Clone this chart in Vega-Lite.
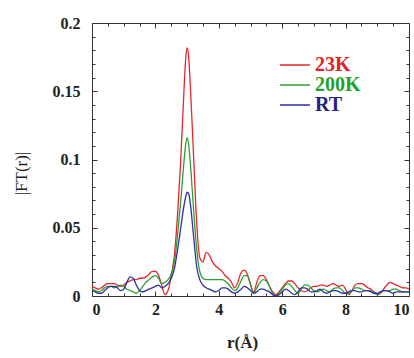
{
  "$schema": "https://vega.github.io/schema/vega-lite/v6.json",
  "width": 317,
  "height": 273,
  "autosize": {"type": "none"},
  "padding": {"left": 92, "top": 23, "right": 5, "bottom": 62},
  "background": "white",
  "config": {
    "view": {"stroke": null},
    "font": "Liberation Serif",
    "axis": {
      "grid": false,
      "domainColor": "#333333",
      "domainWidth": 1,
      "tickColor": "#333333",
      "tickWidth": 1,
      "labelFont": "Liberation Serif",
      "labelFontWeight": "bold",
      "labelFontSize": 16,
      "labelColor": "#222222",
      "titleFont": "Liberation Serif",
      "titleFontWeight": "bold",
      "titleFontSize": 17,
      "titleColor": "#222222"
    }
  },
  "data": {
    "values": [
      {"r": 0.0, "23K": 0.007, "200K": 0.005, "RT": 0.004},
      {"r": 0.1, "23K": 0.006, "200K": 0.004, "RT": 0.003},
      {"r": 0.2, "23K": 0.005, "200K": 0.003, "RT": 0.002},
      {"r": 0.3, "23K": 0.006, "200K": 0.004, "RT": 0.002},
      {"r": 0.4, "23K": 0.008, "200K": 0.006, "RT": 0.004},
      {"r": 0.5, "23K": 0.009, "200K": 0.007, "RT": 0.006},
      {"r": 0.6, "23K": 0.009, "200K": 0.007, "RT": 0.007},
      {"r": 0.7, "23K": 0.009, "200K": 0.006, "RT": 0.007},
      {"r": 0.8, "23K": 0.008, "200K": 0.007, "RT": 0.006},
      {"r": 0.9, "23K": 0.007, "200K": 0.008, "RT": 0.004},
      {"r": 1.0, "23K": 0.008, "200K": 0.007, "RT": 0.005},
      {"r": 1.1, "23K": 0.010, "200K": 0.005, "RT": 0.010},
      {"r": 1.2, "23K": 0.011, "200K": 0.004, "RT": 0.014},
      {"r": 1.3, "23K": 0.012, "200K": 0.003, "RT": 0.013},
      {"r": 1.4, "23K": 0.012, "200K": 0.002, "RT": 0.008},
      {"r": 1.5, "23K": 0.013, "200K": 0.004, "RT": 0.004},
      {"r": 1.6, "23K": 0.013, "200K": 0.007, "RT": 0.003},
      {"r": 1.7, "23K": 0.014, "200K": 0.010, "RT": 0.004},
      {"r": 1.8, "23K": 0.016, "200K": 0.012, "RT": 0.005},
      {"r": 1.9, "23K": 0.018, "200K": 0.014, "RT": 0.006},
      {"r": 2.0, "23K": 0.018, "200K": 0.015, "RT": 0.007},
      {"r": 2.1, "23K": 0.015, "200K": 0.013, "RT": 0.008},
      {"r": 2.2, "23K": 0.008, "200K": 0.009, "RT": 0.006},
      {"r": 2.3, "23K": 0.001, "200K": 0.010, "RT": 0.007},
      {"r": 2.4, "23K": 0.004, "200K": 0.012, "RT": 0.009},
      {"r": 2.5, "23K": 0.015, "200K": 0.016, "RT": 0.013},
      {"r": 2.6, "23K": 0.030, "200K": 0.025, "RT": 0.020},
      {"r": 2.7, "23K": 0.060, "200K": 0.045, "RT": 0.034},
      {"r": 2.8, "23K": 0.100, "200K": 0.070, "RT": 0.050},
      {"r": 2.9, "23K": 0.150, "200K": 0.098, "RT": 0.066},
      {"r": 2.95, "23K": 0.172, "200K": 0.110, "RT": 0.072},
      {"r": 3.0, "23K": 0.182, "200K": 0.116, "RT": 0.076},
      {"r": 3.05, "23K": 0.175, "200K": 0.111, "RT": 0.075},
      {"r": 3.1, "23K": 0.155, "200K": 0.098, "RT": 0.068},
      {"r": 3.2, "23K": 0.105, "200K": 0.065, "RT": 0.045},
      {"r": 3.3, "23K": 0.055, "200K": 0.035, "RT": 0.022},
      {"r": 3.4, "23K": 0.028, "200K": 0.018, "RT": 0.012},
      {"r": 3.5, "23K": 0.025, "200K": 0.013, "RT": 0.008},
      {"r": 3.6, "23K": 0.032, "200K": 0.012, "RT": 0.006},
      {"r": 3.7, "23K": 0.030, "200K": 0.012, "RT": 0.005},
      {"r": 3.8, "23K": 0.025, "200K": 0.012, "RT": 0.004},
      {"r": 3.9, "23K": 0.022, "200K": 0.012, "RT": 0.003},
      {"r": 4.0, "23K": 0.020, "200K": 0.012, "RT": 0.004},
      {"r": 4.1, "23K": 0.018, "200K": 0.012, "RT": 0.006},
      {"r": 4.2, "23K": 0.015, "200K": 0.011, "RT": 0.006},
      {"r": 4.3, "23K": 0.013, "200K": 0.009, "RT": 0.005},
      {"r": 4.4, "23K": 0.010, "200K": 0.006, "RT": 0.003},
      {"r": 4.5, "23K": 0.006, "200K": 0.004, "RT": 0.002},
      {"r": 4.6, "23K": 0.010, "200K": 0.006, "RT": 0.003},
      {"r": 4.7, "23K": 0.017, "200K": 0.011, "RT": 0.005},
      {"r": 4.8, "23K": 0.019, "200K": 0.015, "RT": 0.007},
      {"r": 4.9, "23K": 0.016, "200K": 0.015, "RT": 0.006},
      {"r": 5.0, "23K": 0.008, "200K": 0.009, "RT": 0.004},
      {"r": 5.1, "23K": 0.003, "200K": 0.002, "RT": 0.002},
      {"r": 5.2, "23K": 0.010, "200K": 0.006, "RT": 0.003},
      {"r": 5.3, "23K": 0.015, "200K": 0.010, "RT": 0.005},
      {"r": 5.4, "23K": 0.015, "200K": 0.012, "RT": 0.005},
      {"r": 5.5, "23K": 0.012, "200K": 0.011, "RT": 0.004},
      {"r": 5.6, "23K": 0.007, "200K": 0.007, "RT": 0.003},
      {"r": 5.7, "23K": 0.003, "200K": 0.002, "RT": 0.001},
      {"r": 5.8, "23K": 0.001, "200K": 0.000, "RT": 0.000},
      {"r": 5.9, "23K": 0.003, "200K": 0.002, "RT": 0.001},
      {"r": 6.0, "23K": 0.006, "200K": 0.005, "RT": 0.003},
      {"r": 6.1, "23K": 0.009, "200K": 0.008, "RT": 0.005},
      {"r": 6.2, "23K": 0.011, "200K": 0.009, "RT": 0.004},
      {"r": 6.3, "23K": 0.011, "200K": 0.007, "RT": 0.002},
      {"r": 6.4, "23K": 0.009, "200K": 0.004, "RT": 0.001},
      {"r": 6.5, "23K": 0.006, "200K": 0.002, "RT": 0.003},
      {"r": 6.6, "23K": 0.004, "200K": 0.005, "RT": 0.006},
      {"r": 6.7, "23K": 0.003, "200K": 0.008, "RT": 0.006},
      {"r": 6.8, "23K": 0.004, "200K": 0.008, "RT": 0.005},
      {"r": 6.9, "23K": 0.006, "200K": 0.006, "RT": 0.003},
      {"r": 7.0, "23K": 0.007, "200K": 0.004, "RT": 0.003},
      {"r": 7.1, "23K": 0.007, "200K": 0.003, "RT": 0.004},
      {"r": 7.2, "23K": 0.008, "200K": 0.004, "RT": 0.005},
      {"r": 7.3, "23K": 0.008, "200K": 0.005, "RT": 0.003},
      {"r": 7.4, "23K": 0.007, "200K": 0.004, "RT": 0.002},
      {"r": 7.5, "23K": 0.008, "200K": 0.003, "RT": 0.003},
      {"r": 7.6, "23K": 0.009, "200K": 0.005, "RT": 0.004},
      {"r": 7.7, "23K": 0.008, "200K": 0.006, "RT": 0.004},
      {"r": 7.8, "23K": 0.007, "200K": 0.006, "RT": 0.003},
      {"r": 7.9, "23K": 0.008, "200K": 0.004, "RT": 0.002},
      {"r": 8.0, "23K": 0.005, "200K": 0.002, "RT": 0.002},
      {"r": 8.1, "23K": 0.001, "200K": 0.002, "RT": 0.003},
      {"r": 8.2, "23K": 0.004, "200K": 0.004, "RT": 0.004},
      {"r": 8.3, "23K": 0.008, "200K": 0.006, "RT": 0.004},
      {"r": 8.4, "23K": 0.009, "200K": 0.006, "RT": 0.003},
      {"r": 8.5, "23K": 0.009, "200K": 0.005, "RT": 0.003},
      {"r": 8.6, "23K": 0.008, "200K": 0.004, "RT": 0.004},
      {"r": 8.7, "23K": 0.006, "200K": 0.004, "RT": 0.004},
      {"r": 8.8, "23K": 0.005, "200K": 0.004, "RT": 0.003},
      {"r": 8.9, "23K": 0.003, "200K": 0.002, "RT": 0.002},
      {"r": 9.0, "23K": 0.001, "200K": 0.001, "RT": 0.002},
      {"r": 9.1, "23K": 0.002, "200K": 0.003, "RT": 0.003},
      {"r": 9.2, "23K": 0.005, "200K": 0.004, "RT": 0.004},
      {"r": 9.3, "23K": 0.008, "200K": 0.004, "RT": 0.004},
      {"r": 9.4, "23K": 0.010, "200K": 0.004, "RT": 0.003},
      {"r": 9.5, "23K": 0.009, "200K": 0.005, "RT": 0.002},
      {"r": 9.6, "23K": 0.008, "200K": 0.005, "RT": 0.003},
      {"r": 9.7, "23K": 0.007, "200K": 0.004, "RT": 0.003},
      {"r": 9.8, "23K": 0.006, "200K": 0.003, "RT": 0.003},
      {"r": 9.9, "23K": 0.006, "200K": 0.003, "RT": 0.003},
      {"r": 10.0, "23K": 0.005, "200K": 0.003, "RT": 0.003}
    ]
  },
  "transform": [
    {"fold": ["23K", "200K", "RT"], "as": ["series", "value"]}
  ],
  "resolve": {"axis": {"x": "independent", "y": "independent"}},
  "layer": [
    {
      "mark": {"type": "line", "strokeWidth": 1.3, "interpolate": "monotone", "clip": true},
      "encoding": {
        "x": {
          "field": "r", "type": "quantitative",
          "scale": {"domain": [0, 10], "nice": false, "zero": false},
          "axis": {"orient": "bottom", "values": [0, 2, 4, 6, 8, 10], "tickSize": -5, "labelPadding": 10, "title": "r(Å)", "titlePadding": 17, "titleX": 150, "format": "d"}
        },
        "y": {
          "field": "value", "type": "quantitative",
          "scale": {"domain": [0, 0.2], "nice": false},
          "axis": {"orient": "left", "values": [0, 0.05, 0.1, 0.15, 0.2], "tickSize": -5, "labelPadding": 17, "title": "|FT(r)|", "titlePadding": 22, "titleY": 150, "titleFontWeight": "normal", "labelExpr": "datum.value == 0 ? '0' : format(datum.value, '.2~f')"}
        },
        "color": {
          "field": "series", "type": "nominal",
          "scale": {"domain": ["23K", "200K", "RT"], "range": ["#e8262a", "#2e9e34", "#2e2ea0"]},
          "legend": {
            "title": null,
            "orient": "none",
            "legendX": 193,
            "legendY": 32,
            "symbolType": "M-3,0H3",
            "symbolSize": 100,
            "symbolStrokeWidth": 1.5,
            "labelFont": "Liberation Serif",
            "labelFontSize": 20,
            "labelFontWeight": "bold",
            "labelOffset": 10,
            "rowPadding": 0,
            "labelColor": {"expr": "datum.label == '23K' ? '#e02424' : datum.label == '200K' ? '#22a02a' : '#22228a'"}
          }
        }
      }
    },
    {
      "mark": {"type": "line", "strokeOpacity": 0},
      "encoding": {
        "x": {"field": "r", "type": "quantitative", "axis": {"orient": "top", "values": [0, 2, 4, 6, 8, 10], "tickSize": -5, "labels": false, "title": null}},
        "y": {"field": "value", "type": "quantitative", "axis": {"orient": "right", "values": [0, 0.05, 0.1, 0.15, 0.2], "tickSize": -5, "labels": false, "title": null}},
        "detail": {"field": "series"}
      }
    },
    {
      "mark": {"type": "line", "strokeOpacity": 0},
      "encoding": {
        "x": {"field": "r", "type": "quantitative", "axis": {"orient": "bottom", "values": [0.5, 1, 1.5, 2.5, 3, 3.5, 4.5, 5, 5.5, 6.5, 7, 7.5, 8.5, 9, 9.5], "tickSize": -3, "labels": false, "domain": false, "title": null}},
        "y": {"field": "value", "type": "quantitative", "axis": {"orient": "left", "values": [0.01, 0.02, 0.03, 0.04, 0.06, 0.07, 0.08, 0.09, 0.11, 0.12, 0.13, 0.14, 0.16, 0.17, 0.18, 0.19], "tickSize": -3, "labels": false, "domain": false, "title": null}},
        "detail": {"field": "series"}
      }
    },
    {
      "mark": {"type": "line", "strokeOpacity": 0},
      "encoding": {
        "x": {"field": "r", "type": "quantitative", "axis": {"orient": "top", "values": [0.5, 1, 1.5, 2.5, 3, 3.5, 4.5, 5, 5.5, 6.5, 7, 7.5, 8.5, 9, 9.5], "tickSize": -3, "labels": false, "domain": false, "title": null}},
        "y": {"field": "value", "type": "quantitative", "axis": {"orient": "right", "values": [0.01, 0.02, 0.03, 0.04, 0.06, 0.07, 0.08, 0.09, 0.11, 0.12, 0.13, 0.14, 0.16, 0.17, 0.18, 0.19], "tickSize": -3, "labels": false, "domain": false, "title": null}},
        "detail": {"field": "series"}
      }
    }
  ]
}
